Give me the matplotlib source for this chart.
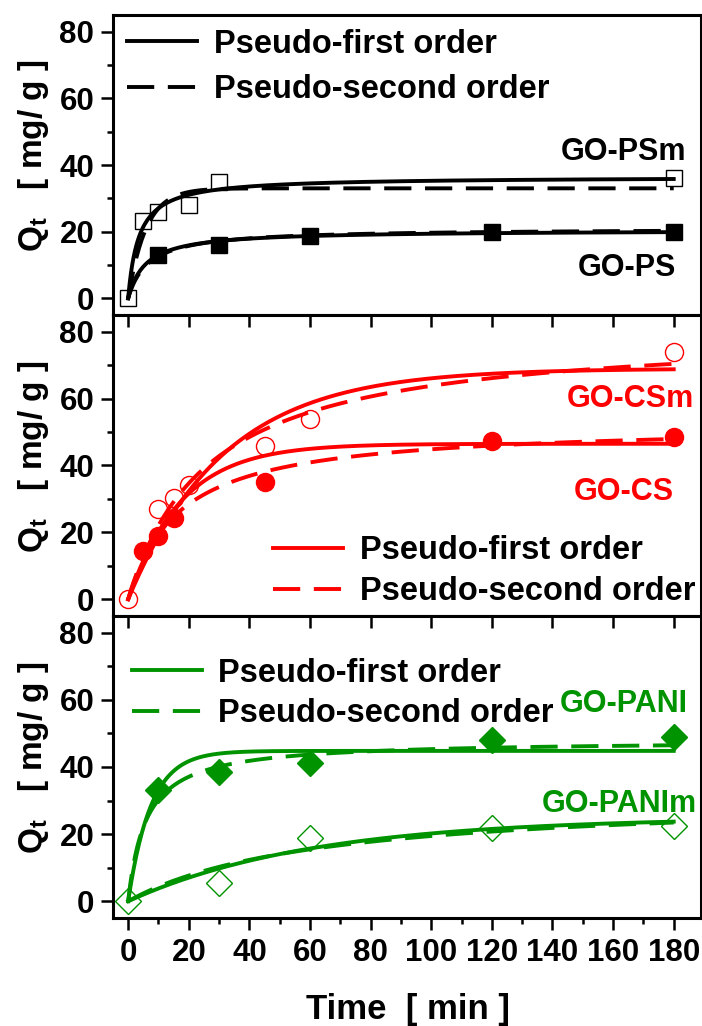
import numpy as np
import matplotlib
matplotlib.use("Agg")
import matplotlib.pyplot as plt
from matplotlib.lines import Line2D

plt.rcParams["font.family"] = ["Liberation Sans", "DejaVu Sans"]
plt.rcParams["font.weight"] = "bold"
plt.rcParams["axes.labelweight"] = "bold"
plt.rcParams["mathtext.fontset"] = "custom"
plt.rcParams["mathtext.rm"] = "Liberation Sans:bold"
plt.rcParams["mathtext.bf"] = "Liberation Sans:bold"
plt.rcParams["mathtext.it"] = "Liberation Sans:bold"

RED = "#ff0000"
GREEN = "#009300"

# ---------------------------------------------------------------- measured data
t_psm = [0, 5, 10, 20, 30, 180]
q_psm = [0, 23.2, 25.9, 28.0, 35.0, 36.0]
t_ps = [10, 30, 60, 120, 180]
q_ps = [13.1, 16.0, 18.8, 19.9, 19.9]

t_csm = [0, 10, 15, 20, 45, 60, 180]
q_csm = [0, 27.0, 30.2, 34.2, 45.9, 53.9, 73.9]
t_cs = [5, 10, 15, 45, 120, 180]
q_cs = [14.3, 19.0, 24.3, 35.1, 47.4, 48.6]

t_pani = [10, 30, 60, 120, 180]
q_pani = [33.1, 38.4, 41.1, 48.1, 49.0]
t_panim = [0, 30, 60, 120, 180]
q_panim = [0, 5.5, 18.7, 21.9, 22.4]

# ---------------------------------------------------------------- fit parameters (qe, k)
fit_psm_solid = ("pso", 36.5, 0.00781)
fit_psm_dash = ("pfo", 33.0, 0.17)
fit_ps_solid = ("pso", 20.5, 0.00844)
fit_ps_dash = ("pso", 21.0, 0.00714)

fit_csm_solid = ("pfo", 69.0, 0.0316)
fit_csm_dash = ("pso", 80.8, 0.000465)
fit_cs_solid = ("pfo", 46.5, 0.057)
fit_cs_dash = ("pso", 52.4, 0.001134)

fit_pani_solid = ("pfo", 44.8, 0.134)
fit_pani_dash = ("pso", 48.0, 0.00354)
fit_panim_solid = ("pfo", 25.0, 0.0165)
fit_panim_dash = ("pso", 31.6, 0.000506)

xticks = [0, 20, 40, 60, 80, 100, 120, 140, 160, 180]
yticks = [0, 20, 40, 60, 80]


def model(t, fit):
    kind, qe, k = fit
    if kind == "pfo":
        return qe * (1 - np.exp(-k * t))
    return qe * qe * k * t / (1 + qe * k * t)


t_fit = np.linspace(0, 180, 400)

fig = plt.figure(figsize=(7.02, 10.26), dpi=100)
left, width = 113 / 702, 588 / 702
ax_top = fig.add_axes([left, 1 - 315 / 1026, width, 300 / 1026])
ax_mid = fig.add_axes([left, 1 - 616 / 1026, width, 301 / 1026])
ax_bot = fig.add_axes([left, 1 - 918 / 1026, width, 302 / 1026])

LW = 2.8
DASH = (7, 3.5)


def draw_fit(ax, fit, color, dashed):
    ls = (0, DASH) if dashed else "-"
    ax.plot(t_fit, model(t_fit, fit), color=color, lw=LW, linestyle=ls, zorder=2)


# top panel
draw_fit(ax_top, fit_psm_solid, "black", False)
draw_fit(ax_top, fit_psm_dash, "black", True)
draw_fit(ax_top, fit_ps_solid, "black", False)
draw_fit(ax_top, fit_ps_dash, "black", True)
ax_top.plot(t_ps, q_ps, "s", color="black", ms=11, zorder=3)
ax_top.plot(t_psm, q_psm, "s", mfc="none", mec="black", mew=1.0, ms=11, zorder=3)
ax_top.text(163.5, 43.9, "GO-PSm", color="black", fontsize=22, ha="center", va="center")
ax_top.text(164.6, 9.0, "GO-PS", color="black", fontsize=22, ha="center", va="center")

# middle panel
draw_fit(ax_mid, fit_csm_solid, RED, False)
draw_fit(ax_mid, fit_csm_dash, RED, True)
draw_fit(ax_mid, fit_cs_solid, RED, False)
draw_fit(ax_mid, fit_cs_dash, RED, True)
ax_mid.plot(t_cs, q_cs, "o", color=RED, ms=13, zorder=3)
ax_mid.plot(t_csm, q_csm, "o", mfc="none", mec=RED, mew=1.0, ms=13, zorder=3)
ax_mid.text(165.6, 59.9, "GO-CSm", color=RED, fontsize=22, ha="center", va="center")
ax_mid.text(163.6, 32.0, "GO-CS", color=RED, fontsize=22, ha="center", va="center")

# bottom panel
draw_fit(ax_bot, fit_pani_solid, GREEN, False)
draw_fit(ax_bot, fit_pani_dash, GREEN, True)
draw_fit(ax_bot, fit_panim_solid, GREEN, False)
draw_fit(ax_bot, fit_panim_dash, GREEN, True)
ax_bot.plot(t_pani, q_pani, "D", color=GREEN, ms=13, zorder=3)
ax_bot.plot(t_panim, q_panim, "D", mfc="none", mec=GREEN, mew=1.0, ms=13, zorder=3)
ax_bot.text(163.6, 58.8, "GO-PANI", color=GREEN, fontsize=22, ha="center", va="center")
ax_bot.text(162.0, 29.0, "GO-PANIm", color=GREEN, fontsize=22, ha="center", va="center")


def legend_handles(color):
    return [Line2D([], [], color=color, lw=LW),
            Line2D([], [], color=color, lw=LW, linestyle=(0, DASH))]


labels = ["Pseudo-first order", "Pseudo-second order"]
leg_kw = dict(frameon=False, fontsize=23.5, handlelength=2.15, handletextpad=0.5,
              borderpad=0, borderaxespad=0)
ax_top.legend(legend_handles("black"), labels, loc="upper left", labelspacing=0.45,
              bbox_to_anchor=(0.024, 0.955), **leg_kw)
ax_mid.legend(legend_handles(RED), labels, loc="lower right", labelspacing=0.3,
              bbox_to_anchor=(0.99, 0.03), **leg_kw)
ax_bot.legend(legend_handles(GREEN), labels, loc="upper left", labelspacing=0.3,
              bbox_to_anchor=(0.032, 0.862), **leg_kw)

for ax in (ax_top, ax_mid, ax_bot):
    ax.set_xlim(-5, 189)
    ax.set_ylim(-5, 85)
    ax.set_yticks(yticks)
    ax.set_yticks([10, 30, 50, 70], minor=True)
    ax.tick_params(axis="y", which="major", direction="out", length=8.5, width=1.8,
                   labelsize=22.5, pad=5)
    ax.tick_params(axis="y", which="minor", direction="out", length=4.5, width=1.8)
    for sp in ax.spines.values():
        sp.set_linewidth(2.2)
    ax.set_ylabel(r"$\mathbf{Q_t}$   [ mg/ g ]", fontsize=24, fontweight="bold")
    ax.yaxis.set_label_coords(-0.106, 0.53)
    for lbl in ax.get_yticklabels():
        lbl.set_fontweight("bold")

# top panel: no x ticks
ax_top.set_xticks([])

# middle panel: inward ticks along the top edge only
ax_mid.set_xticks(xticks)
ax_mid.tick_params(axis="x", which="major", bottom=False, top=True, labelbottom=False,
                   direction="in", length=8.5, width=1.8)

# bottom panel: inward top ticks, outward labelled bottom ticks
ax_bot.set_xticks(xticks)
ax_bot.set_xticks([10, 30, 50, 70, 90, 110, 130, 150, 170], minor=True)
ax_bot.tick_params(axis="x", which="major", bottom=True, top=True, direction="out",
                   length=8.5, width=1.8, labelsize=22.5, pad=6)
ax_bot.tick_params(axis="x", which="minor", bottom=True, top=False, direction="out",
                   length=4.5, width=1.8)
for lbl in ax_bot.get_xticklabels():
    lbl.set_fontweight("bold")
ax_bot.set_xlabel("Time  [ min ]", fontsize=25, fontweight="bold")
ax_bot.xaxis.set_label_coords(0.501, -0.25)

# top ticks of the bottom panel point inward
for tick in ax_bot.xaxis.get_major_ticks():
    tick.tick2line.set_marker(3)

fig.savefig("out.png", dpi=100)
